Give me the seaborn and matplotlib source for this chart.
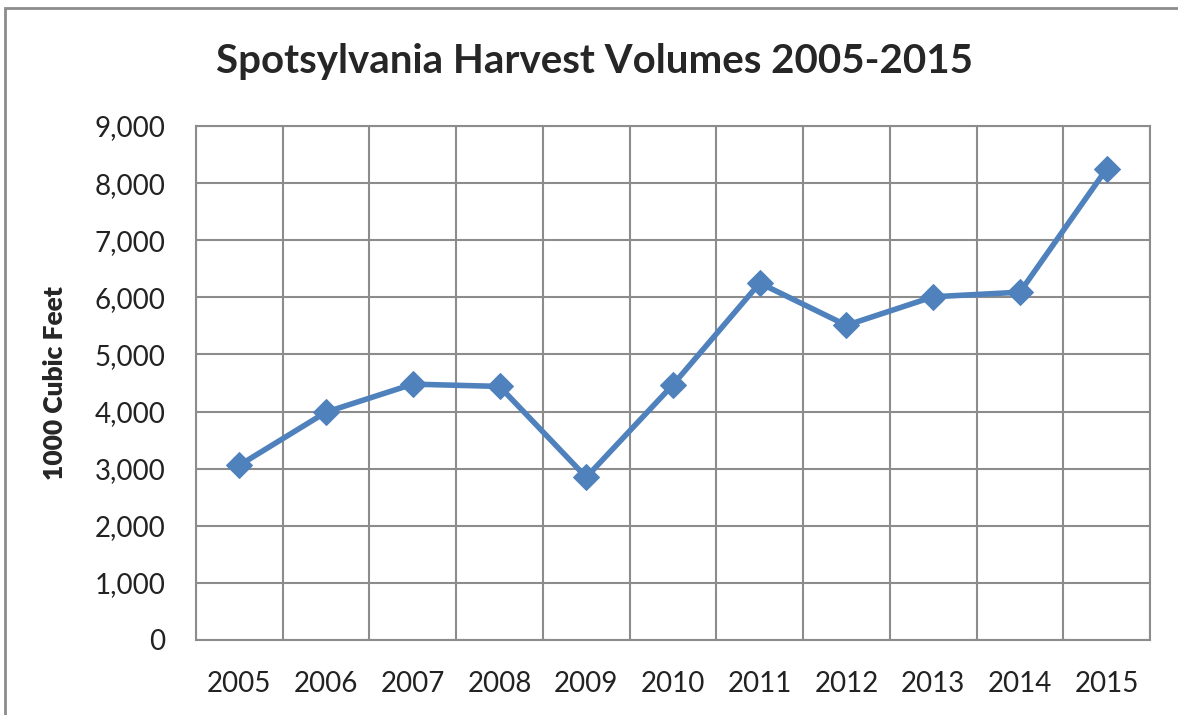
import matplotlib
matplotlib.use("Agg")
import matplotlib.pyplot as plt
from matplotlib.ticker import FuncFormatter, MultipleLocator
from matplotlib.patches import Rectangle
import seaborn as sns
import pandas as pd

years = [2005, 2006, 2007, 2008, 2009, 2010, 2011, 2012, 2013, 2014, 2015]
volumes = [3060, 3990, 4480, 4440, 2850, 4470, 6250, 5510, 6010, 6090, 8250]
y_ticks = [0, 1000, 2000, 3000, 4000, 5000, 6000, 7000, 8000, 9000]

df = pd.DataFrame({'Year': years, 'Volume': volumes})

sns.set_style("white")
plt.rcParams['font.family'] = ['Lato', 'DejaVu Sans']

grid_col = '#8c8c8c'
line_col = '#4f81bd'

fig = plt.figure(figsize=(11.78, 7.15), dpi=100)
ax = fig.add_axes([196 / 1178, 1 - 640 / 715, (1150 - 196) / 1178, (640 - 126) / 715])

sns.lineplot(data=df, x='Year', y='Volume', ax=ax, color=line_col,
             linewidth=4, marker='D', markersize=13, markeredgecolor=line_col)

ax.set_xlim(years[0] - 0.5, years[-1] + 0.5)
ax.set_ylim(y_ticks[0], y_ticks[-1])
ax.set_xticks(years)
ax.set_xticklabels([str(y) for y in years])
ax.xaxis.set_minor_locator(MultipleLocator(1, offset=0.5))
ax.set_yticks(y_ticks)
ax.yaxis.set_major_formatter(FuncFormatter(lambda v, p: f'{int(v):,}'))

ax.grid(False)
ax.grid(which='minor', axis='x', color=grid_col, linewidth=1.5)
ax.grid(which='major', axis='y', color=grid_col, linewidth=1.5)
ax.set_axisbelow(True)
for s in ax.spines.values():
    s.set_color(grid_col)
    s.set_linewidth(1.5)

ax.tick_params(axis='both', which='both', length=0, labelsize=20, colors='#222222')
ax.tick_params(axis='y', pad=22)
ax.tick_params(axis='x', pad=22)

ax.set_xlabel('')
ax.set_ylabel('1000 Cubic Feet', fontsize=19, fontweight='heavy', labelpad=14)
ax.yaxis.set_label_coords(-129 / 954, 0.5)

fig.text(595 / 1178, 1 - 62 / 715, 'Spotsylvania Harvest Volumes 2005-2015',
         ha='center', va='center', fontsize=29, fontweight='bold')

# outer chart border (left and top visible)
fig.patches.append(Rectangle((5 / 1178, -0.1), 1.2, 1.1 - 8 / 715,
                             transform=fig.transFigure, fill=False,
                             edgecolor='#8c8c8c', linewidth=2))

fig.savefig('out.png', dpi=100)
